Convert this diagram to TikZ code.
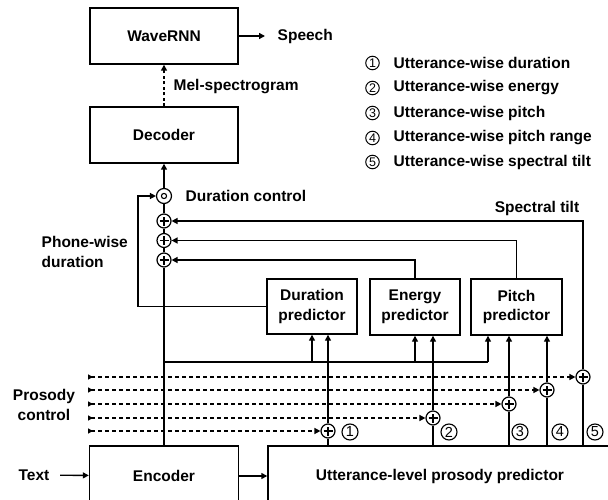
\documentclass[tikz,border=0pt]{standalone}
\usepackage{fontspec}
\setmainfont{Liberation Sans}
\usetikzlibrary{arrows.meta}
\tikzset{
  box/.style={draw,rectangle,inner sep=0pt,align=center},
  lbl/.style={inner sep=0pt},
  arr/.style={-{Triangle[length=6pt,width=6pt]}},
  dsh/.style={dash pattern=on 4pt off 3pt,{Triangle[length=5pt,width=5pt,reversed]}-{Triangle[length=6pt,width=6pt]}},
  dsharr/.style={dash pattern=on 3pt off 2.5pt,-{Triangle[length=6pt,width=6pt]}},
  pluscirc/.style={draw,circle,minimum size=14pt,inner sep=0pt,line width=1.2pt,
    path picture={\draw[line width=1.2pt]
      ([xshift=-4.5pt]path picture bounding box.center) -- ([xshift=4.5pt]path picture bounding box.center)
      ([yshift=-4.5pt]path picture bounding box.center) -- ([yshift=4.5pt]path picture bounding box.center);}},
  dotcirc/.style={draw,circle,minimum size=15pt,inner sep=0pt,line width=1.2pt,
    path picture={\draw[line width=1.1pt] (path picture bounding box.center) circle (2.6pt);}},
  legcirc/.style={draw,circle,inner sep=0pt,line width=1pt,minimum size=13.5pt,font=\fontsize{12.5}{12.5}\selectfont\mdseries},
  botcirc/.style={draw,circle,inner sep=0pt,line width=1.1pt,minimum size=16pt,font=\fontsize{14.5}{14.5}\selectfont\mdseries},
}
\begin{document}
\begin{tikzpicture}[x=1pt,y=-1pt,line width=1.4pt,
  font=\fontsize{15.5}{19.5}\selectfont\bfseries]
\useasboundingbox (0,0) rectangle (608,500);
\clip (0,0) rectangle (608,500);

% main boxes
\node[box,minimum width=148,minimum height=56] (wave) at (164,36) {WaveRNN};
\node[box,minimum width=148,minimum height=56] (dec) at (164,135) {Decoder};
\node[box,minimum width=90,minimum height=55] (dur) at (312,306.5) {Duration\\predictor};
\node[box,minimum width=90,minimum height=56] (en) at (415,307) {Energy\\predictor};
\node[box,minimum width=91,minimum height=56] (pitch) at (516.5,307) {Pitch\\predictor};
\node[box,minimum width=149,minimum height=60] (enc) at (164,476) {Encoder};
\node[box,minimum width=344,minimum height=60] (utt) at (440,476) {Utterance-level prosody predictor};

% labels
\node[lbl,anchor=west,inner xsep=12pt] (speech) at (265,36) {Speech};
\node[lbl,anchor=west] (mel) at (173,87) {Mel-spectrogram};
\node[lbl,anchor=west] (dclbl) at (185,196) {Duration control};
\node[lbl] (stlbl) at (537,208) {Spectral tilt};
\node[lbl,anchor=west,align=left] (pwd) at (41,252) {Phone-wise\\duration};
\node[lbl,align=center] (pc) at (44,405) {Prosody\\control};
\node[lbl,inner xsep=10pt] (txt) at (34,475) {Text};

% legend
\foreach \n/\t/\yy in {1/Utterance-wise duration/63,2/Utterance-wise energy/88,3/Utterance-wise pitch/113,4/Utterance-wise pitch range/138,5/Utterance-wise spectral tilt/162}{
  \node[legcirc] (leg\n) at (372.5,\yy) {\n};
  \node[lbl,anchor=west] (legt\n) at (393,\yy) {\t};
}

% operator circles
\node[dotcirc] (dc) at (164,196) {};
\node[pluscirc] (p1) at (164,221) {};
\node[pluscirc] (p2) at (164,240.5) {};
\node[pluscirc] (p3) at (164,260) {};
\node[pluscirc] (q1) at (328,431) {};
\node[pluscirc] (q2) at (433,418) {};
\node[pluscirc] (q3) at (509,404) {};
\node[pluscirc] (q4) at (547,390) {};
\node[pluscirc] (q5) at (583,377) {};

% circled numbers at bottom
\node[botcirc] (n1) at (350,432) {1};
\node[botcirc] (n2) at (449,432) {2};
\node[botcirc] (n3) at (520,432) {3};
\node[botcirc] (n4) at (560,432) {4};
\node[botcirc] (n5) at (595,432) {5};

% coordinates
\coordinate (bus) at (164,362);
\coordinate (bd) at (312,362);
\coordinate (be) at (415,362);
\coordinate (bp) at (488,362);
\coordinate (fb) at (138,306.5);
\coordinate (s1) at (88,431);
\coordinate (s2) at (88,418);
\coordinate (s3) at (88,404);
\coordinate (s4) at (88,390);
\coordinate (s5) at (88,377);

% connectors top
\draw[arr] (wave) -- (speech);
\draw[dsharr] (dec) -- (wave);
\draw[arr] (dc) -- (dec);
\draw (p1) -- (dc);
\draw (p2) -- (p1);
\draw (p3) -- (p2);
\draw (enc) -- (p3);

% bus to predictors
\draw (bus) -- (bp);
\draw[arr] (bd) -- (bd |- dur.south);
\draw[arr] (be) -- (be |- en.south);
\draw[arr] (bp) -- (bp |- pitch.south);

% predictor outputs
\draw[arr] (dur) -- (fb) |- (dc);
\draw[arr] (en) |- (p3);
\draw[arr] (pitch) |- (p2);
\draw[arr] (q5) |- (p1);

% utterance-level outputs
\draw (q1 |- utt.north) -- (q1);
\draw (q2 |- utt.north) -- (q2);
\draw (q3 |- utt.north) -- (q3);
\draw (q4 |- utt.north) -- (q4);
\draw (q5 |- utt.north) -- (q5);
\draw[arr] (q1) -- (q1 |- dur.south);
\draw[arr] (q2) -- (q2 |- en.south);
\draw[arr] (q3) -- (q3 |- pitch.south);
\draw[arr] (q4) -- (q4 |- pitch.south);

% prosody control
\draw[dsh] (s1) -- (q1);
\draw[dsh] (s2) -- (q2);
\draw[dsh] (s3) -- (q3);
\draw[dsh] (s4) -- (q4);
\draw[dsh] (s5) -- (q5);

% inputs
\draw[arr] (txt) -- (enc);
\draw[arr] (enc) -- (utt);
\end{tikzpicture}
\end{document}
